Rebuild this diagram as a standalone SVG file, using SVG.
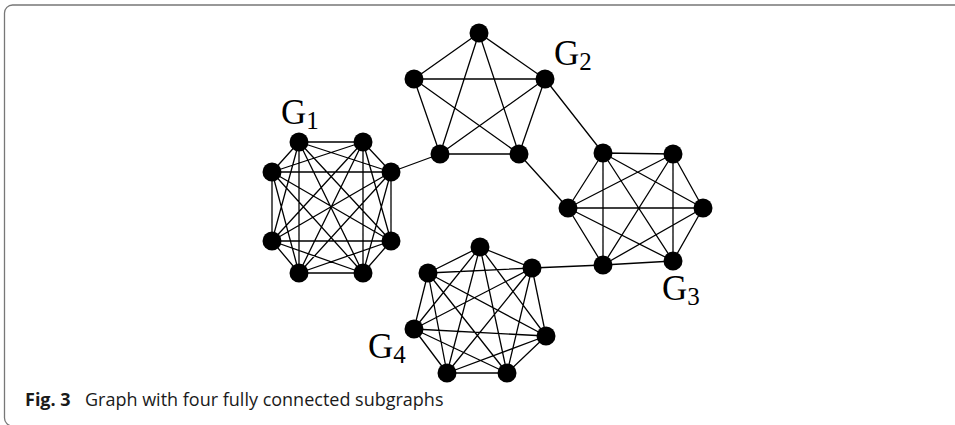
<svg xmlns="http://www.w3.org/2000/svg" width="955" height="425" viewBox="0 0 955 425">
<style>
.e{stroke:#000;stroke-width:1.3;fill:none}
.n{fill:#000}
.lbl{font-family:"Liberation Serif","Times New Roman",serif;font-size:35px;fill:#000}
.sub{font-size:25px}
.cap{font-family:"Open Sans","Noto Sans",sans-serif;font-size:18px;fill:#1a1a1a}
</style>
<rect x="4.5" y="5" width="1000" height="421" rx="8" fill="none" stroke="#777" stroke-width="1.3"/>
<g id="connectors">
<path class="e" d="M299,142L363,142M299,142L272,172M299,142L391,172M299,142L272,241M299,142L391,241M299,142L299,273M299,142L363,273
M363,142L272,172M363,142L391,172M363,142L272,241M363,142L391,241M363,142L299,273M363,142L363,273
M272,172L391,172M272,172L272,241M272,172L391,241M272,172L299,273M272,172L363,273
M391,172L272,241M391,172L391,241M391,172L299,273M391,172L363,273
M272,241L391,241M272,241L299,273M272,241L363,273
M391,241L299,273M391,241L363,273M299,273L363,273"/>
<path class="e" d="M479,33L414,79M479,33L545,79M479,33L440,154M479,33L519,154M414,79L545,79M414,79L440,154M414,79L519,154M545,79L440,154M545,79L519,154M440,154L519,154"/>
<path class="e" d="M603,153L673,154M603,153L568,208M603,153L703,208M603,153L603,265M603,153L673,261
M673,154L568,208M673,154L703,208M673,154L603,265M673,154L673,261
M568,208L703,208M568,208L603,265M568,208L673,261M703,208L603,265M703,208L673,261M603,265L673,261"/>
<path class="e" d="M480,247L428,273M480,247L532,268M480,247L414,329M480,247L546,336M480,247L447,373M480,247L507,373
M428,273L532,268M428,273L414,329M428,273L546,336M428,273L447,373M428,273L507,373
M532,268L414,329M532,268L546,336M532,268L447,373M532,268L507,373
M414,329L546,336M414,329L447,373M414,329L507,373M546,336L447,373M546,336L507,373M447,373L507,373"/>
<path class="e" d="M391,172L440,154M545,79L603,153M519,154L568,208M532,268L603,265"/>
</g>
<g id="G1">
<circle id="g1a" class="n" cx="299" cy="142" r="9.5"/>
<circle id="g1b" class="n" cx="363" cy="142" r="9.5"/>
<circle id="g1c" class="n" cx="272" cy="172" r="9.5"/>
<circle id="g1d" class="n" cx="391" cy="172" r="9.5"/>
<circle id="g1e" class="n" cx="272" cy="241" r="9.5"/>
<circle id="g1f" class="n" cx="391" cy="241" r="9.5"/>
<circle id="g1g" class="n" cx="299" cy="273" r="9.5"/>
<circle id="g1h" class="n" cx="363" cy="273" r="9.5"/>
<text class="lbl" x="281" y="124">G<tspan class="sub" dy="5">1</tspan></text>
</g>
<g id="G2">
<circle id="g2a" class="n" cx="479" cy="33" r="9.5"/>
<circle id="g2b" class="n" cx="414" cy="79" r="9.5"/>
<circle id="g2c" class="n" cx="545" cy="79" r="9.5"/>
<circle id="g2d" class="n" cx="440" cy="154" r="9.5"/>
<circle id="g2e" class="n" cx="519" cy="154" r="9.5"/>
<text class="lbl" x="554" y="65">G<tspan class="sub" dy="5">2</tspan></text>
</g>
<g id="G3">
<circle id="g3a" class="n" cx="603" cy="153" r="9.5"/>
<circle id="g3b" class="n" cx="673" cy="154" r="9.5"/>
<circle id="g3c" class="n" cx="568" cy="208" r="9.5"/>
<circle id="g3d" class="n" cx="703" cy="208" r="9.5"/>
<circle id="g3e" class="n" cx="603" cy="265" r="9.5"/>
<circle id="g3f" class="n" cx="673" cy="261" r="9.5"/>
<text class="lbl" x="662" y="300">G<tspan class="sub" dy="5">3</tspan></text>
</g>
<g id="G4">
<circle id="g4a" class="n" cx="480" cy="247" r="9.5"/>
<circle id="g4b" class="n" cx="428" cy="273" r="9.5"/>
<circle id="g4c" class="n" cx="532" cy="268" r="9.5"/>
<circle id="g4d" class="n" cx="414" cy="329" r="9.5"/>
<circle id="g4e" class="n" cx="546" cy="336" r="9.5"/>
<circle id="g4f" class="n" cx="447" cy="373" r="9.5"/>
<circle id="g4g" class="n" cx="507" cy="373" r="9.5"/>
<text class="lbl" x="368" y="358">G<tspan class="sub" dy="5">4</tspan></text>
</g>
<text class="cap" x="25" y="406"><tspan font-weight="bold">Fig. 3</tspan><tspan x="85">Graph with four fully connected subgraphs</tspan></text>
</svg>
